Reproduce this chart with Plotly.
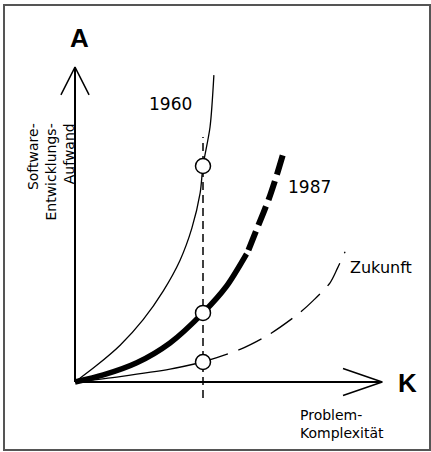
import plotly.graph_objects as go

# ---- data (K = Problem-Komplexität, A = Software-Entwicklungs-Aufwand) ----
k_1960 = [0, 0.68, 1.41, 2.13, 2.76, 3.28, 3.65, 3.91, 4.0, 4.22, 4.34]
a_1960 = [0, 0.52, 1.15, 1.95, 2.85, 3.8, 4.8, 5.9, 6.75, 7.97, 9.59]

k_1987 = [0, 0.885, 1.93, 2.97, 4.0, 4.74, 5.36]
a_1987 = [0, 0.22, 0.6, 1.22, 2.16, 3.0, 4.0]
k_1987_ext = [5.42, 5.73, 6.05, 6.3, 6.51]
a_1987_ext = [4.12, 4.9, 5.7, 6.45, 7.15]

k_zuk = [0, 1.41, 2.97, 4.0]
a_zuk = [0, 0.17, 0.4, 0.625]
k_zuk_ext = [4.0, 5.16, 6.09, 7.03, 7.45, 7.97, 8.2, 8.44]
a_zuk_ext = [0.625, 1.02, 1.5, 2.17, 2.55, 3.1, 3.55, 4.07]

k_mark = [4.0, 4.0, 4.0]
a_mark = [6.75, 2.16, 0.625]

k_vline = [4.0, 4.0]
a_vline = [-0.5, 7.66]

# axes with arrows
y_axis_k = [0, 0]
y_axis_a = [0, 9.84]
y_head_k = [-0.44, 0, 0.44]
y_head_a = [8.97, 9.84, 8.97]
x_axis_k = [0, 9.6]
x_axis_a = [0, 0]
x_head_k = [8.375, 9.6, 8.375]
x_head_a = [0.42, 0, -0.42]

fig = go.Figure()

def line(x, y, w, dash="solid", shape="spline"):
    fig.add_trace(go.Scatter(x=x, y=y, mode="lines", hoverinfo="skip",
                             line=dict(color="black", width=w, dash=dash, shape=shape,
                                       smoothing=0.8 if shape == "spline" else None)))

line(y_axis_k, y_axis_a, 2, shape="linear")
line(y_head_k, y_head_a, 1.5, shape="linear")
line(x_axis_k, x_axis_a, 2, shape="linear")
line(x_head_k, x_head_a, 1.5, shape="linear")

line(k_vline, a_vline, 1.5, dash="8px,5px", shape="linear")

line(k_1960, a_1960, 1.3)
line(k_1987, a_1987, 5.5)
line(k_1987_ext, a_1987_ext, 6, dash="20px,7px")
line(k_zuk, a_zuk, 1.3)
line(k_zuk_ext, a_zuk_ext, 1.3, dash="26px,11px")

fig.add_trace(go.Scatter(x=k_mark, y=a_mark, mode="markers", hoverinfo="skip",
                         marker=dict(size=15, color="white",
                                     line=dict(color="black", width=1.5))))

font = "DejaVu Sans"
ann = [
    dict(text="<b>A</b>", x=0.156, y=10.75, size=26, fam="Liberation Sans"),
    dict(text="<b>K</b>", x=10.375, y=-0.03, size=26, fam="Liberation Sans"),
    dict(text="1960", x=2.97, y=8.69, size=17, fam=font),
    dict(text="1987", x=7.34, y=6.09, size=17, fam=font),
    dict(text="Zukunft", x=9.56, y=3.59, size=16, fam=font),
]
for a in ann:
    fig.add_annotation(text=a["text"], x=a["x"], y=a["y"], xref="x", yref="y",
                       showarrow=False, xanchor="center", yanchor="middle",
                       font=dict(family=a["fam"], size=a["size"], color="black"))

fig.add_annotation(text="Software-<br>Entwicklungs-<br>Aufwand", x=-0.78, y=8.125,
                   xref="x", yref="y", showarrow=False, textangle=-90, align="right",
                   xanchor="center", yanchor="top",
                   font=dict(family=font, size=14, color="black"))
fig.add_annotation(text="Problem-<br>Komplexität", x=6.97, y=-0.72,
                   xref="x", yref="y", showarrow=False, align="left",
                   xanchor="left", yanchor="top",
                   font=dict(family=font, size=14, color="black"))

# frame
fig.add_shape(type="rect", xref="paper", yref="paper",
              x0=4 / 431, x1=430 / 431, y0=1 - 450 / 452, y1=1 - 5 / 452,
              line=dict(color="#555555", width=2))

fig.update_layout(width=431, height=452, margin=dict(l=0, r=0, t=0, b=0, pad=0),
                  paper_bgcolor="white", plot_bgcolor="white", showlegend=False,
                  xaxis=dict(range=[-75 / 32, 356 / 32], visible=False, fixedrange=True),
                  yaxis=dict(range=[-70 / 32, 382 / 32], visible=False, fixedrange=True))

fig.write_html("out.html", config={"displayModeBar": False},
               post_script="document.body.style.margin='0';document.body.style.overflow='hidden';")
